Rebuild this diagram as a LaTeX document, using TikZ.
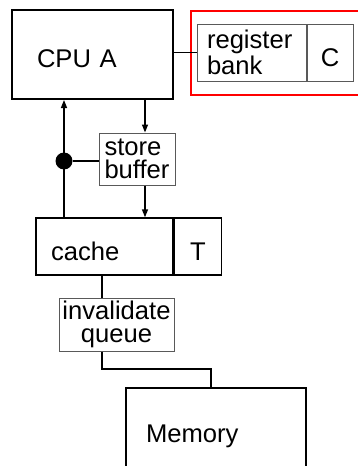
\documentclass[tikz,border=0pt]{standalone}
\usepackage{fontspec}
\setmainfont{Liberation Sans}
\usetikzlibrary{positioning}
\usetikzlibrary{arrows.meta}
\newcommand{\boxfont}{\fontsize{12.8}{11.5}\selectfont}
\tikzstyle{unit} = [rectangle, draw=black, line width=1pt, inner ysep=0pt,
font=\boxfont, text height=13.5pt, text depth=0pt]
\tikzstyle{cell} = [unit, line width=0.7pt]
\tikzstyle{part} = [rectangle, draw=black!65, line width=0.5pt, inner ysep=0pt,
font=\boxfont]
\tikzstyle{junction} = [circle, fill=black, inner sep=0pt, minimum size=8.5pt]
\tikzstyle{link} = [line width=0.7pt]
\tikzstyle{frame} = [draw=red, line width=1.3pt]
\tikzset{>={Triangle[length=4pt,width=3pt]}}

\begin{document}
\begin{tikzpicture}[x=0.5pt, y=-0.5pt]
  \useasboundingbox (0,0) rectangle (358,466);

  % cpu and its registers
  \node[unit, minimum width=80.5pt, minimum height=44.5pt, text width=55.5pt,
    inner xsep=12.5pt] (cpu) at (92.5,54.5) {CPU A};
  \node[part, minimum width=54.5pt, minimum height=28.5pt, text width=44.5pt,
    inner xsep=5pt, align=left] (reg) at (251.5,52.5) {register\\bank};
  \node[part, minimum width=23pt, minimum height=28.5pt, right=0pt of reg,
    text height=13.5pt, text depth=0pt] (regc) {C};
  \draw[frame] (191,11) rectangle (366,95);
  \draw[link] (cpu.east |- reg.west) -- (reg.west);

  % store buffer
  \node[part, minimum width=38pt, minimum height=26pt, inner xsep=0pt,
    align=left] (store) at (137,159) {store\\buffer};
  \node[junction] (dot) at (64,161) {};
  \coordinate (sbx) at (145,0);

  % cache
  \node[cell, minimum width=68.5pt, minimum height=28.5pt, text width=53.5pt,
    inner xsep=7.5pt] (cache) at (104.5,246.5) {cache};
  \node[cell, minimum width=23.5pt, minimum height=28.5pt, right=0pt of cache]
    (tag) {T};

  \draw[link, ->] (dot |- cache.north) -- (dot |- cpu.south);
  \draw[link, ->] (sbx |- cpu.south) -- (sbx |- store.north);
  \draw[link, ->] (sbx |- store.south) -- (sbx |- cache.north);
  \draw[link] (dot) -- (dot -| store.west);

  % invalidate queue and memory
  \node[part, minimum width=57.5pt, minimum height=26.5pt, inner xsep=0pt,
    align=center] (iq) at (116.5,324.5) {invalidate\\queue};
  \node[unit, minimum width=90pt, minimum height=40.5pt, text width=70pt,
    inner xsep=10pt] (mem) at (216,428.5) {Memory};
  \coordinate (iqx) at (102,0);
  \coordinate (bend) at (211,369);

  \draw[link] (iqx |- cache.south) -- (iqx |- iq.north);
  \draw[link] (iqx |- iq.south) |- (bend) -- (bend |- mem.north);
\end{tikzpicture}
\end{document}
